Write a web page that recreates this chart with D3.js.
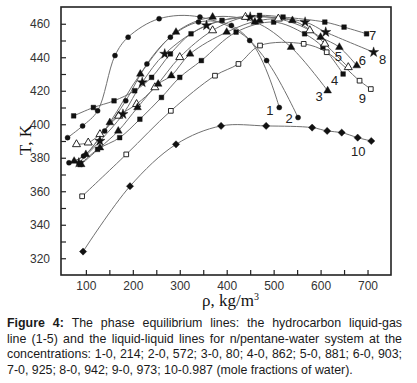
<!DOCTYPE html>
<html>
<head>
<meta charset="utf-8">
<script src="https://cdn.jsdelivr.net/npm/d3@7"></script>
<style>
  body { margin: 0; background: #fff; }
  #chart { position: absolute; left: 0; top: 0; }
  #caption {
    position: absolute; left: 7px; top: 316px; width: 395px;
    font-family: "Liberation Sans", Arial, sans-serif; font-size: 12.4px;
    line-height: 15.6px; color: #1a1a1a;
  }
  #caption div { text-align: justify; text-align-last: justify; white-space: nowrap; }
  #caption div:last-child { text-align-last: left; }
  .tick text { font-family: "Liberation Sans Narrow", "Arial Narrow", "Liberation Sans", sans-serif; font-size: 12px; fill: #333; }
</style>
</head>
<body>
<div id="chart"></div>
<div id="caption"></div>
<script>
// [density kg/m3, T K]
const line1  = [[61,392],[93,399],[125,408],[162,441],[190,452],[256,463],[343,464],[449,450],[512,410]];
const line2  = [[64,377],[95,381],[140,396],[185,414],[230,436],[280,452],[340,461],[410,459],[485,438],[552,404]];
const line3  = [[75,378],[100,382],[151,401],[216,430],[292,455],[370,464],[460,461],[537,446],[615,420]];
const line4  = [[88,376],[125,385],[172,392],[215,403],[261,416],[300,428],[346,438],[420,455],[500,461],[566,454],[605,446],[648,430]];
const line5  = [[80,388],[105,389],[130,394],[170,405],[208,412],[247,422],[300,440],[370,456],[440,464],[510,463],[577,456],[609,448],[659,434]];
const line6  = [[90,376],[130,386],[169,396],[210,410],[254,424],[282,429],[322,442],[400,455],[470,462],[540,462],[600,452],[640,446],[677,435]];
const line7  = [[74,405],[116,410],[160,414],[204,420],[240,428],[280,442],[324,454],[390,462],[470,465],[520,464],[609,461],[650,458],[698,454]];
const line8  = [[85,377],[130,390],[179,406],[220,425],[268,442],[357,459],[450,464],[567,461],[611,455],[713,443]];
const line9  = [[92,357],[186,382],[281,408],[375,429],[425,436],[471,447],[564,448],[613,443],[683,426],[707,421]];
const line10 = [[94,324],[194,363],[292,388],[388,399],[484,399],[582,398],[614,396],[645,395],[679,392],[708,390]];

const lineNames  = ["1", "2", "3", "4", "5", "6", "7", "8", "9", "10"];
const lineMarks  = ["circle", "circle", "triangle", "square", "openTriangle", "triangle", "square", "star", "openSquare", "diamond"];
// where each curve number is written, in data units
const labelAt    = [[492,408],[533,403.7],[597,416.3],[630,426.2],[638,440.3],[689,438.2],[711,453],[732,438.6],[689,415.7],[680,383.8]];

const xTicks = [100, 200, 300, 400, 500, 600, 700];
const yTicks = [320, 340, 360, 380, 400, 420, 440, 460];

const captionLines = [
  "The phase equilibrium lines: the hydrocarbon liquid-gas",
  "line (1-5) and the liquid-liquid lines for n/pentane-water system at the",
  "concentrations: 1-0, 214; 2-0, 572; 3-0, 80; 4-0, 862; 5-0, 881; 6-0, 903;",
  "7-0, 925; 8-0, 942; 9-0, 973; 10-0.987 (mole fractions of water)."
];

const series = [line1, line2, line3, line4, line5, line6, line7, line8, line9, line10];

drawChart("chart");
drawCaption("caption");

function drawCaption(elId) {
  const rows = d3.select("#" + elId).selectAll("div")
    .data(captionLines)
    .join("div");
  rows.filter((d, i) => i === 0).append("b").text("Figure 4: ");
  rows.append("span").text(d => d);
}

function markPath(kind) {
  const shapes = {
    circle:       d3.symbol(d3.symbolCircle, 20),
    triangle:     d3.symbol(d3.symbolTriangle, 26),
    openTriangle: d3.symbol(d3.symbolTriangle, 28),
    square:       d3.symbol(d3.symbolSquare, 22),
    openSquare:   d3.symbol(d3.symbolSquare, 22),
    star:         d3.symbol(d3.symbolStar, 32),
    diamond:      d3.symbol(d3.symbolSquare, 26)
  };
  return shapes[kind]();
}

function drawChart(elId) {
  const dims = { width: 417, height: 310, left: 61, right: 26, top: 7, bottom: 35 };
  const svg = d3.select("#" + elId)
    .append("svg")
      .attr("width", dims.width)
      .attr("height", dims.height);
  const w = dims.width - dims.left - dims.right;
  const h = dims.height - dims.top - dims.bottom;
  const xScale = d3.scaleLinear([47, 750], [0, w]);
  const yScale = d3.scaleLinear([310, 470], [h, 0]);

  const g = svg.append("g").attr("transform", `translate(${dims.left} ${dims.top})`);

  // inward ticks, minor every 50 / 10
  g.append("g").attr("transform", `translate(0 ${h})`)
    .call(d3.axisTop(xScale).tickValues(d3.range(100, 750, 50)).tickSize(5).tickFormat(""))
    .call(a => a.select(".domain").remove());
  g.append("g").attr("transform", `translate(0 ${h})`)
    .call(d3.axisBottom(xScale).tickValues(xTicks).tickSize(0).tickPadding(6))
    .call(a => a.select(".domain").remove());
  g.append("g")
    .call(d3.axisRight(yScale).tickValues(d3.range(320, 470, 10)).tickSize(5).tickFormat(""))
    .call(a => a.select(".domain").remove());
  g.append("g")
    .call(d3.axisLeft(yScale).tickValues(yTicks).tickSize(0).tickPadding(11))
    .call(a => a.select(".domain").remove());
  g.selectAll(".tick line").attr("stroke", "#222").attr("stroke-width", 1.2);

  g.append("rect")
    .attr("width", w).attr("height", h)
    .attr("fill", "none").attr("stroke", "#222").attr("stroke-width", 1.6);

  const lineGen = d3.line()
    .x(d => xScale(d[0]))
    .y(d => yScale(d[1]))
    .curve(d3.curveCatmullRom.alpha(0.5));

  g.selectAll("path.curve")
    .data(series)
    .join("path")
      .attr("class", "curve")
      .attr("d", lineGen)
      .attr("fill", "none")
      .attr("stroke", "#707070")
      .attr("stroke-width", 1);

  series.forEach((pts, i) => {
    const kind = lineMarks[i];
    const open = kind.startsWith("open");
    g.append("g").selectAll("path")
      .data(pts)
      .join("path")
        .attr("d", markPath(kind))
        .attr("transform", d => `translate(${xScale(d[0])} ${yScale(d[1])})` + (kind === "diamond" ? " rotate(45)" : ""))
        .attr("fill", open ? "#fff" : "#111")
        .attr("stroke", "#111")
        .attr("stroke-width", open ? 0.9 : 0.4);
  });

  g.selectAll("text.num")
    .data(labelAt)
    .join("text")
      .attr("class", "num")
      .attr("x", d => xScale(d[0]))
      .attr("y", d => yScale(d[1]))
      .attr("dy", "0.35em")
      .attr("text-anchor", "middle")
      .attr("font-family", "Liberation Sans Narrow, Liberation Sans, sans-serif")
      .attr("font-size", 13)
      .attr("fill", "#222")
      .text((d, i) => lineNames[i]);

  svg.append("text")
    .attr("transform", `translate(31 140) rotate(-90)`)
    .attr("text-anchor", "middle")
    .attr("font-family", "Liberation Serif, Times New Roman, serif")
    .attr("font-size", 17)
    .attr("fill", "#111")
    .text("T, K");

  const xl = svg.append("text")
    .attr("x", 202).attr("y", 306)
    .attr("font-family", "Liberation Serif, Times New Roman, serif")
    .attr("font-size", 17)
    .attr("fill", "#111")
    .text("ρ, kg/m");
  xl.append("tspan").attr("dy", -6).attr("font-size", 10).text("3");
}
</script>
</body>
</html>
